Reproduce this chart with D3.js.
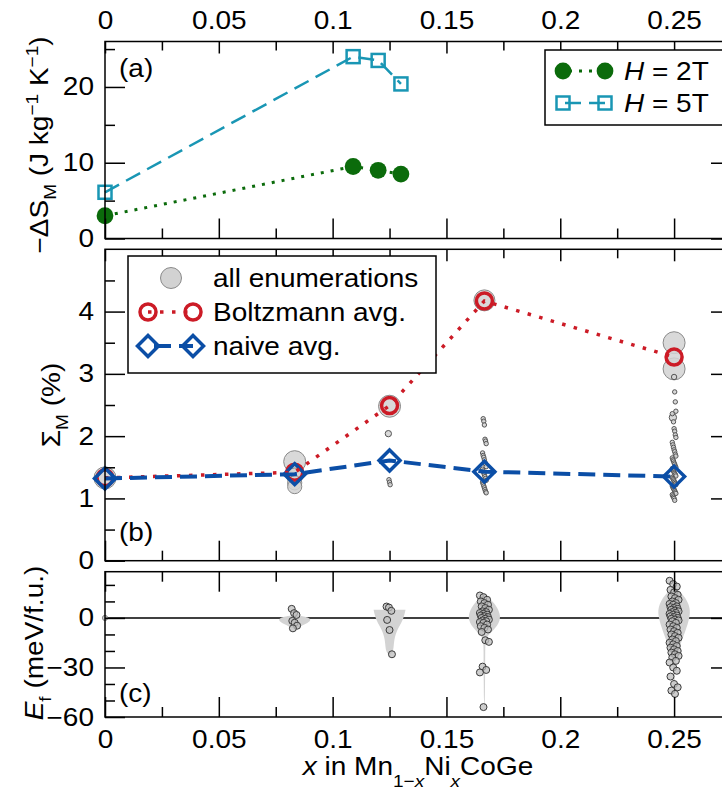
<!DOCTYPE html>
<html><head><meta charset="utf-8">
<script src="https://cdn.jsdelivr.net/npm/d3@7"></script>
<style>
body{margin:0;background:#fff;}
svg text{font-family:"Liberation Sans",Arial,Helvetica,sans-serif;fill:#000;}
</style></head><body>
<svg id="chart" width="722" height="795"></svg>
<script>
// ---------------- data ----------------
const xMajorTicks = [0, 0.05, 0.1, 0.15, 0.2, 0.25];
const xMinorTicks = [0.025, 0.075, 0.125, 0.175, 0.225, 0.275];

// panel (a) : -dS_M
const a2T_x = [0, 0.109, 0.12, 0.13];
const a2T_y = [3.0, 9.5, 9.0, 8.5];
const a5T_x = [0, 0.109, 0.12, 0.13];
const a5T_y = [6.1, 24.0, 23.5, 20.4];
const aYMajor = [0, 10, 20];
const aYMinor = [5, 15, 25];

// panel (b) : Sigma_M
const compX = [0, 1/12, 0.125, 1/6, 0.25];
const boltzAvg = [1.33, 1.42, 2.49, 4.17, 3.27];
const naiveAvg = [1.32, 1.39, 1.61, 1.43, 1.35];
const enumSigma_0 = [1.33];
const enumSize_0  = [1.0];
const enumSigma_1 = [1.59, 1.36, 1.25, 1.19];
const enumSize_1  = [1.0, 0.44, 0.31, 0.31];
const enumSigma_2 = [2.48, 2.04, 1.30, 1.26, 1.22];
const enumSize_2  = [1.0, 0.012];
const enumSigma_3 = [4.18, 2.28, 2.24, 2.18, 1.95, 1.92, 1.88, 1.73, 1.69, 1.66, 1.62, 1.58, 1.55, 1.51,
                     1.47, 1.44, 1.41, 1.38, 1.35, 1.32, 1.29, 1.26, 1.23, 1.20, 1.17, 1.14, 1.11, 1.09];
const enumSize_3  = [0.89];
const enumSigma_4 = [3.50, 3.08, 3.27, 2.95, 2.71, 2.55, 2.40, 2.36, 2.30, 2.23, 2.12, 2.08, 2.02, 1.98,
                     1.90, 1.86, 1.82, 1.78, 1.75, 1.71, 1.68, 1.65, 1.62, 1.60, 1.57, 1.55, 1.52, 1.50,
                     1.48, 1.46, 1.44, 1.42, 1.40, 1.38, 1.36, 1.34, 1.32, 1.30, 1.28, 1.26, 1.24, 1.22,
                     1.20, 1.18, 1.16, 1.14, 1.12, 1.10, 1.08, 1.06, 1.04, 1.02, 1.00, 0.97];
const enumSize_4  = [1.0, 1.0, 0.44, 0.003, 0, 0, 0, 0, 0.028];
const bYMajor = [0, 1, 2, 3, 4];
const bYMinor = [0.5, 1.5, 2.5, 3.5, 4.5];

// panel (c) : formation energy E_f (meV/f.u.)
const ef_0 = [0];
const ef_1 = [5.5, 2.9, 1.8, -1.8, -2.9, -4.7, -6.3];
const ef_2 = [6.9, 6.3, 4.3, -1.2, -7.3, -22];
const ef_3 = [13.6, 12.6, 11, 10, 9, 8, 7, 6, 5, 4, 3.5, 3, 2.5, 2, 1.5, 1, 0.5, 0, -0.5, -1, -1.5,
              -2, -2.5, -3, -4, -5, -6, -7, -8.5, -13.5, -14.5, -29.5, -31.5, -33, -54];
const ef_4 = [22.5, 20.5, 19, 17, 15.5, 14, 13, 12, 11, 10, 9, 8.5, 8, 7, 6.5, 6, 5.5, 5, 4.5, 4, 3.5,
              3, 2.5, 2, 1.5, 1, 0.5, 0, -0.5, -1, -1.5, -2, -3, -4, -5, -6, -7, -8, -9, -10, -11, -12,
              -13, -14, -15, -16, -17, -18, -19, -20, -21, -22, -23, -24, -26, -27, -30, -32, -35.5,
              -40, -42, -44, -46];
// violin outlines: energy levels and relative half-width
const violE_1 = [1.5, 1, 0, -1, -2, -3, -4, -5, -6, -7];
const violW_1 = [0, 0.6, 0.9, 1, 0.95, 0.8, 0.6, 0.4, 0.15, 0];
const violE_2 = [4.9, 2, 0, -2, -4, -7, -10, -13, -16, -19, -21, -22.5];
const violW_2 = [1.0, 0.93, 0.87, 0.78, 0.68, 0.5, 0.38, 0.3, 0.27, 0.24, 0.18, 0];
const violE_3 = [15, 12, 9, 6, 3, 0, -3, -6, -9, -11, -13, -16, -20, -30, -40, -50, -55];
const violW_3 = [0, 0.3, 0.6, 0.82, 0.95, 1.0, 0.9, 0.7, 0.4, 0.2, 0.1, 0.06, 0.05, 0.05, 0.04, 0.03, 0];
const violE_4 = [20, 17, 14, 10, 6, 3, 0, -4, -8, -12, -16, -20, -24, -28, -33, -40, -46];
const violW_4 = [0, 0.25, 0.55, 0.85, 0.98, 1.0, 0.95, 0.85, 0.7, 0.55, 0.4, 0.28, 0.17, 0.08, 0.05, 0.03, 0];
const cYMajor = [-60, -30, 0];
const cYMinor = [-50, -40, -20, -10, 10, 20];

// ---------------- style ----------------
const SX = 1.12, FS = 25;
const GREEN = "#0b6b0b", TEAL = "#1996b4", RED = "#cc1b26", BLUE = "#0b4ea6";

const svg = d3.select("#chart");
const X = d3.scaleLinear().domain([0, 0.275]).range([105, 731]);
const yA = d3.scaleLinear().domain([0, 26]).range([238.5, 41.5]);
const yB = d3.scaleLinear().domain([0, 5]).range([560.7, 249.3]);
const yC = d3.scaleLinear().domain([-60, 28]).range([717, 571.7]);

const fmtX = d => d === 0 ? "0" : String(+d.toFixed(3));
const fmtY = d => d < 0 ? "\u2212" + Math.abs(d) : String(d);

function stretch(sel) {
  sel.selectAll("text").each(function () {
    const t = d3.select(this);
    const x = +t.attr("x") || 0;
    t.attr("x", x / SX).attr("transform", `scale(${SX},1)`);
  });
}
function styleAxis(g) {
  g.select(".domain").remove();
  g.selectAll("line").attr("stroke", "#000").attr("stroke-width", 1.5);
  g.selectAll("text").attr("font-size", FS).attr("font-family", null);
  g.attr("font-family", null).attr("font-size", null);
}
function axisSet(yScale, top, bottom, yMajor, yMinor, opts) {
  const g = svg.append("g");
  // left
  g.append("g").attr("transform", `translate(${X.range()[0]},0)`)
    .call(d3.axisLeft(yScale).tickValues(yMajor).tickSize(-20).tickPadding(11).tickFormat(fmtY))
    .call(styleAxis).call(stretch);
  g.append("g").attr("transform", `translate(${X.range()[0]},0)`)
    .call(d3.axisLeft(yScale).tickValues(yMinor).tickSize(-10).tickFormat(""))
    .call(styleAxis);
  // right (majors only)
  g.append("g").attr("transform", `translate(${X.range()[1]},0)`)
    .call(d3.axisRight(yScale).tickValues(opts.rightTicks).tickSize(-20).tickFormat(""))
    .call(styleAxis);
  // top
  const topAx = d3.axisTop(X).tickValues(xMajorTicks).tickSize(-opts.topMajor).tickPadding(13)
    .tickFormat(opts.topLabels ? fmtX : "");
  g.append("g").attr("transform", `translate(0,${top})`).call(topAx).call(styleAxis).call(stretch);
  g.append("g").attr("transform", `translate(0,${top})`)
    .call(d3.axisTop(X).tickValues(xMinorTicks).tickSize(-opts.topMinor).tickFormat(""))
    .call(styleAxis);
  // bottom
  const botAx = d3.axisBottom(X).tickValues(xMajorTicks).tickSize(-opts.botMajor).tickPadding(13)
    .tickFormat(opts.botLabels ? fmtX : "");
  g.append("g").attr("transform", `translate(0,${bottom})`).call(botAx).call(styleAxis).call(stretch);
  g.append("g").attr("transform", `translate(0,${bottom})`)
    .call(d3.axisBottom(X).tickValues(xMinorTicks).tickSize(-opts.botMinor).tickFormat(""))
    .call(styleAxis);
  // frame
  g.append("rect").attr("x", X.range()[0]).attr("y", top)
    .attr("width", X.range()[1] - X.range()[0]).attr("height", bottom - top)
    .attr("fill", "none").attr("stroke", "#000").attr("stroke-width", 1.5);
}

function addText(parent, x, y, parts, o = {}) {
  const t = parent.append("text")
    .attr("transform", `translate(${x},${y})${o.rotate ? ` rotate(${o.rotate})` : ""} scale(${SX},1)`)
    .attr("text-anchor", o.anchor || "start").attr("font-size", o.size || FS);
  let cur = 0;
  parts.forEach(p => {
    if (typeof p === "string") p = { t: p };
    const shift = p.shift || 0;
    const ts = t.append("tspan").text(p.t);
    if (p.it) ts.attr("font-style", "italic");
    if (p.size) ts.attr("font-size", p.size);
    if (shift !== cur) { ts.attr("dy", shift - cur); cur = shift; }
  });
  return t;
}

// ---------------- panel (c) : violins + points ----------------
const violHalf = 0.007;
const gc = svg.append("g");
gc.append("line").attr("x1", X.range()[0]).attr("x2", X.range()[1])
  .attr("y1", yC(0)).attr("y2", yC(0)).attr("stroke", "#000").attr("stroke-width", 1.5);
const violins = [[1, violE_1, violW_1], [2, violE_2, violW_2], [3, violE_3, violW_3], [4, violE_4, violW_4]];
violins.forEach(([ci, E, W]) => {
  const pts = E.map((e, i) => [e, W[i]]);
  const area = d3.area()
    .y(d => yC(d[0]))
    .x0(d => X(compX[ci] - violHalf * d[1]))
    .x1(d => X(compX[ci] + violHalf * d[1]))
    .curve(d3.curveBasis);
  gc.append("path").attr("d", area(pts)).attr("fill", "#d3d3d3").attr("stroke", "none");
});
const efSets = [ef_0, ef_1, ef_2, ef_3, ef_4];
efSets.forEach((vals, ci) => {
  gc.selectAll(null).data(vals).enter().append("circle")
    .attr("cx", (d, i) => X(compX[ci]) + (ci === 0 ? 0 : (((i * 37) % 11) - 5) * (ci >= 3 ? 0.9 : 0.6)))
    .attr("cy", d => yC(d))
    .attr("r", ci === 0 ? 2.6 : 3.5)
    .attr("fill", "#bdbdbd").attr("fill-opacity", 0.75)
    .attr("stroke", ci === 0 ? "#888" : "#3a3a3a").attr("stroke-width", 1);
});

// ---------------- panel (b) ----------------
const gb = svg.append("g");
const rScale = d3.scaleSqrt().domain([0, 1]).range([2.2, 11]);
const enumSets = [[enumSigma_0, enumSize_0], [enumSigma_1, enumSize_1], [enumSigma_2, enumSize_2],
                  [enumSigma_3, enumSize_3], [enumSigma_4, enumSize_4]];
enumSets.forEach(([sig, size], ci) => {
  const rows = sig.map((s, i) => ({ s, w: size[i] ?? 0, i }));
  rows.sort((a, b) => b.w - a.w);
  gb.selectAll(null).data(rows).enter().append("circle")
    .attr("cx", d => X(compX[ci]) + (d.w > 0.1 ? 0 : (((d.i * 29) % 7) - 3) * 0.6))
    .attr("cy", d => yB(d.s))
    .attr("r", d => rScale(d.w))
    .attr("fill", "#d2d2d2").attr("fill-opacity", 0.85)
    .attr("stroke", d => d.w > 0.1 ? "#8a8a8a" : "#555").attr("stroke-width", 1);
});
const lineB = d3.line().x((d, i) => X(compX[i])).y(d => yB(d));
gb.selectAll(null).data(boltzAvg).enter().append("circle")
  .attr("cx", (d, i) => X(compX[i])).attr("cy", d => yB(d)).attr("r", 8)
  .attr("fill", "none").attr("stroke", RED).attr("stroke-width", 3.5);
const diamond = (cx, cy, h) => `M${cx},${cy - h}L${cx + h},${cy}L${cx},${cy + h}L${cx - h},${cy}Z`;
gb.selectAll(null).data(naiveAvg).enter().append("path")
  .attr("d", (d, i) => diamond(X(compX[i]), yB(d), 10.5))
  .attr("fill", "none").attr("stroke", BLUE).attr("stroke-width", 3.5).attr("stroke-linejoin", "miter");
gb.append("path").attr("d", lineB(boltzAvg)).attr("fill", "none").attr("stroke", RED)
  .attr("stroke-width", 3.5).attr("stroke-dasharray", "3.5,8.5");
gb.append("path").attr("d", lineB(naiveAvg)).attr("fill", "none").attr("stroke", BLUE)
  .attr("stroke-width", 4).attr("stroke-dasharray", "17,8");

// ---------------- panel (a) ----------------
const ga = svg.append("g");
const lineA = (xs) => d3.line().x((d, i) => X(xs[i])).y(d => yA(d));
ga.append("path").attr("d", lineA(a2T_x)(a2T_y)).attr("fill", "none").attr("stroke", GREEN)
  .attr("stroke-width", 3).attr("stroke-dasharray", "3,7");
ga.append("path").attr("d", lineA(a5T_x)(a5T_y)).attr("fill", "none").attr("stroke", TEAL)
  .attr("stroke-width", 2.5).attr("stroke-dasharray", "16,8");
ga.selectAll(null).data(a2T_y).enter().append("circle")
  .attr("cx", (d, i) => X(a2T_x[i])).attr("cy", d => yA(d)).attr("r", 8.4).attr("fill", GREEN);
ga.selectAll(null).data(a5T_y).enter().append("rect")
  .attr("x", (d, i) => X(a5T_x[i]) - 6.5).attr("y", d => yA(d) - 6.5)
  .attr("width", 13).attr("height", 13).attr("fill", "none").attr("stroke", TEAL).attr("stroke-width", 2.5);

// ---------------- axes & frames ----------------
axisSet(yA, 41.5, 238.5, aYMajor, aYMinor,
  { rightTicks: [0, 10, 20], topMajor: 12, topMinor: 9, botMajor: 20, botMinor: 10, topLabels: true, botLabels: false });
axisSet(yB, 249.3, 560.7, bYMajor, bYMinor,
  { rightTicks: [1, 2, 3, 4], topMajor: 12, topMinor: 9, botMajor: 20, botMinor: 10, topLabels: false, botLabels: false });
axisSet(yC, 571.7, 717, cYMajor, cYMinor,
  { rightTicks: [-30, 0], topMajor: 20, topMinor: 10, botMajor: 20, botMinor: 10, topLabels: false, botLabels: true });

// ---------------- legends ----------------
const la = svg.append("g");
la.append("rect").attr("x", 545).attr("y", 50).attr("width", 200).attr("height", 75)
  .attr("fill", "#fff").attr("stroke", "#000").attr("stroke-width", 1.5);
la.append("line").attr("x1", 563).attr("x2", 605).attr("y1", 71).attr("y2", 71)
  .attr("stroke", GREEN).attr("stroke-width", 3).attr("stroke-dasharray", "3,7").attr("stroke-dashoffset", -6);
[563, 605].forEach(cx => la.append("circle").attr("cx", cx).attr("cy", 71).attr("r", 8.4).attr("fill", GREEN));
la.append("line").attr("x1", 563).attr("x2", 605).attr("y1", 103).attr("y2", 103)
  .attr("stroke", TEAL).attr("stroke-width", 2.5).attr("stroke-dasharray", "16,8").attr("stroke-dashoffset", -2);
[563, 605].forEach(cx => la.append("rect").attr("x", cx - 6.5).attr("y", 96.5).attr("width", 13).attr("height", 13)
  .attr("fill", "none").attr("stroke", TEAL).attr("stroke-width", 2.5));
addText(la, 624, 80, [{ t: "H", it: true }, " = 2T"]);
addText(la, 624, 112, [{ t: "H", it: true }, " = 5T"]);

const lb = svg.append("g");
lb.append("rect").attr("x", 128).attr("y", 256).attr("width", 308).attr("height", 117)
  .attr("fill", "#fff").attr("stroke", "#000").attr("stroke-width", 1.5);
lb.append("circle").attr("cx", 171).attr("cy", 278).attr("r", 10.5)
  .attr("fill", "#d2d2d2").attr("stroke", "#8a8a8a").attr("stroke-width", 1);
lb.append("line").attr("x1", 148).attr("x2", 193).attr("y1", 312).attr("y2", 312)
  .attr("stroke", RED).attr("stroke-width", 3.5).attr("stroke-dasharray", "3.5,8.5");
[148, 193].forEach(cx => lb.append("circle").attr("cx", cx).attr("cy", 312).attr("r", 8)
  .attr("fill", "none").attr("stroke", RED).attr("stroke-width", 3.5));
lb.append("line").attr("x1", 148).attr("x2", 193).attr("y1", 346).attr("y2", 346)
  .attr("stroke", BLUE).attr("stroke-width", 4).attr("stroke-dasharray", "17,8").attr("stroke-dashoffset", -6);
[148, 193].forEach(cx => lb.append("path").attr("d", diamond(cx, 346, 10.5))
  .attr("fill", "none").attr("stroke", BLUE).attr("stroke-width", 3.5));
addText(lb, 213, 287, ["all enumerations"]);
addText(lb, 213, 321, ["Boltzmann avg."]);
addText(lb, 213, 355, ["naive avg."]);

// panel tags
addText(svg, 119, 77, ["(a)"]);
addText(svg, 119, 541, ["(b)"]);
addText(svg, 119, 702, ["(c)"]);

// ---------------- axis titles ----------------
addText(svg, 48, 145, ["\u2212\u0394S", { t: "M", size: 17, shift: 8 }, { t: " (J kg", shift: 0 },
  { t: "\u22121", size: 17, shift: -10 }, { t: " K", shift: 0 }, { t: "\u22121", size: 17, shift: -10 },
  { t: ")", shift: 0 }], { rotate: -90, anchor: "middle" });
addText(svg, 60, 405, ["\u03A3", { t: "M", size: 17, shift: 8 }, { t: " (%)", shift: 0 }],
  { rotate: -90, anchor: "middle" });
addText(svg, 43, 643, [{ t: "E", it: true }, { t: "f", size: 17, shift: 8 }, { t: " (meV/f.u.)", shift: 0 }],
  { rotate: -90, anchor: "middle" });
addText(svg, 418, 775, [{ t: "x", it: true }, " in Mn", { t: "1\u2212", size: 17, shift: 12 },
  { t: "x", it: true, size: 17, shift: 12 }, { t: "Ni", shift: 0 }, { t: "x", it: true, size: 17, shift: 12 },
  { t: "CoGe", shift: 0 }], { anchor: "middle" });
</script>
</body></html>
